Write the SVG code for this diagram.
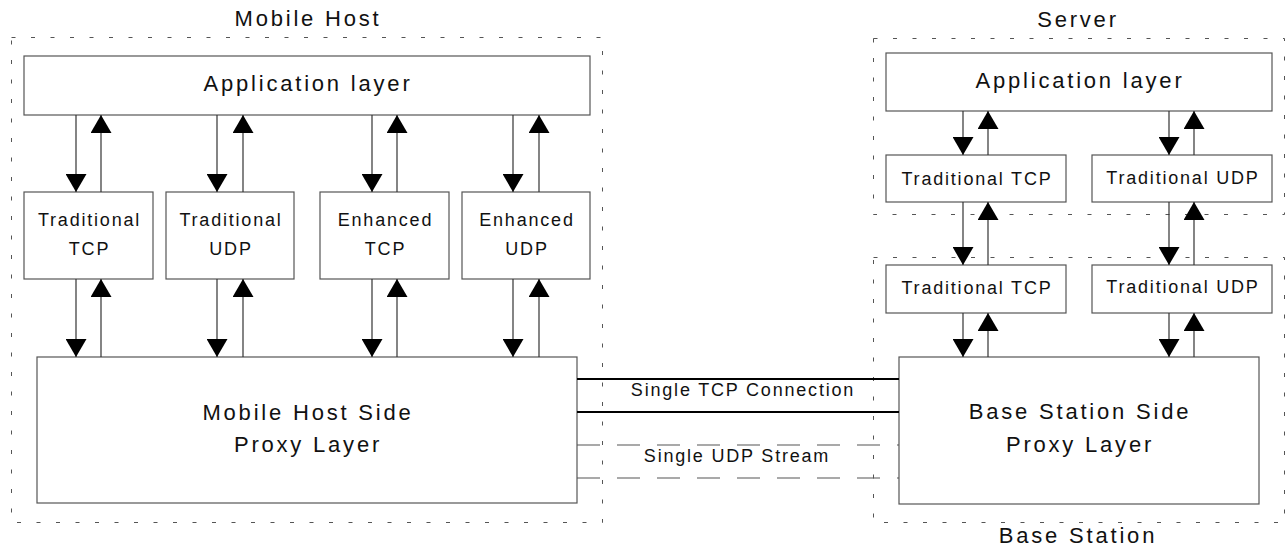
<svg xmlns="http://www.w3.org/2000/svg" width="1285" height="548" viewBox="0 0 1285 548">
  <style>
    .bg { fill: #ffffff; }
    .box { fill: #ffffff; stroke: #555555; stroke-width: 1.2; }
    .zone { fill: none; stroke: #555555; stroke-width: 1; stroke-dasharray: 4 15.5; }
    .big { font-family: "Liberation Sans", Arial, sans-serif; font-size: 22px; letter-spacing: 2.8px; fill: #111111; text-anchor: middle; }
    .small { font-family: "Liberation Sans", Arial, sans-serif; font-size: 18px; letter-spacing: 1.8px; fill: #111111; text-anchor: middle; }
    .arrow { stroke: #333333; stroke-width: 1.2; fill: none; marker-end: url(#head); }
    .thick { stroke: #000000; stroke-width: 2.2; }
    .dashed { stroke: #555555; stroke-width: 1.2; stroke-dasharray: 23 17; }
  </style>
  <defs>
    <marker id="head" viewBox="0 0 18 21" refX="18" refY="10.5" markerWidth="18" markerHeight="21" markerUnits="userSpaceOnUse" orient="auto">
      <path d="M0,0 L18,10.5 L0,21 z" fill="#000000"/>
    </marker>
  </defs>
  <rect class="bg" x="0" y="0" width="1285" height="548"/>

  <!-- Mobile host -->
  <g id="mobile-host">
    <rect class="zone" x="11.5" y="37.5" width="591" height="485"/>
    <text class="big" x="308" y="26">Mobile Host</text>
  </g>
  <g id="mh-app">
    <rect class="box" x="24" y="56" width="566" height="59"/>
    <text class="big" x="308" y="91">Application layer</text>
  </g>
  <g id="mh-trad-tcp">
    <rect class="box" x="24" y="192" width="129" height="87"/>
    <text class="small" x="89.5" y="225.5">Traditional</text>
    <text class="small" x="89.5" y="255">TCP</text>
  </g>
  <g id="mh-trad-udp">
    <rect class="box" x="166" y="192" width="128" height="87"/>
    <text class="small" x="231" y="225.5">Traditional</text>
    <text class="small" x="231" y="255">UDP</text>
  </g>
  <g id="mh-enh-tcp">
    <rect class="box" x="320" y="192" width="129" height="87"/>
    <text class="small" x="385.5" y="225.5">Enhanced</text>
    <text class="small" x="385.5" y="255">TCP</text>
  </g>
  <g id="mh-enh-udp">
    <rect class="box" x="462" y="192" width="128" height="87"/>
    <text class="small" x="527" y="225.5">Enhanced</text>
    <text class="small" x="527" y="255">UDP</text>
  </g>
  <g id="mh-proxy">
    <rect class="box" x="37" y="357" width="540" height="146"/>
    <text class="big" x="308" y="420">Mobile Host Side</text>
    <text class="big" x="308" y="452">Proxy Layer</text>
  </g>

  <!-- Server -->
  <g id="server">
    <rect class="zone" x="873.5" y="38.5" width="411" height="176"/>
    <text class="big" x="1078" y="27">Server</text>
  </g>
  <g id="srv-app">
    <rect class="box" x="886" y="53" width="386" height="58"/>
    <text class="big" x="1080" y="88">Application layer</text>
  </g>
  <g id="srv-trad-tcp">
    <rect class="box" x="886" y="155" width="180" height="47"/>
    <text class="small" x="977" y="185">Traditional TCP</text>
  </g>
  <g id="srv-trad-udp">
    <rect class="box" x="1092" y="155" width="180" height="47"/>
    <text class="small" x="1183" y="184">Traditional UDP</text>
  </g>

  <!-- Base station -->
  <g id="base-station">
    <rect class="zone" x="873.5" y="257.5" width="411" height="265"/>
    <text class="big" x="1078" y="543">Base Station</text>
  </g>
  <g id="bs-trad-tcp">
    <rect class="box" x="886" y="265" width="180" height="48"/>
    <text class="small" x="977" y="294">Traditional TCP</text>
  </g>
  <g id="bs-trad-udp">
    <rect class="box" x="1092" y="265" width="180" height="48"/>
    <text class="small" x="1183" y="293">Traditional UDP</text>
  </g>
  <g id="bs-proxy">
    <rect class="box" x="899" y="357" width="360" height="147"/>
    <text class="big" x="1080" y="419">Base Station Side</text>
    <text class="big" x="1080" y="452">Proxy Layer</text>
  </g>

  <!-- Connectors -->
  <g id="connectors">
    <!-- mobile host: application <-> transports -->
    <line class="arrow" x1="76" y1="115" x2="76" y2="192"/>
    <line class="arrow" x1="101" y1="192" x2="101" y2="115"/>
    <line class="arrow" x1="217" y1="115" x2="217" y2="192"/>
    <line class="arrow" x1="243" y1="192" x2="243" y2="115"/>
    <line class="arrow" x1="372" y1="115" x2="372" y2="192"/>
    <line class="arrow" x1="397" y1="192" x2="397" y2="115"/>
    <line class="arrow" x1="513" y1="115" x2="513" y2="192"/>
    <line class="arrow" x1="539" y1="192" x2="539" y2="115"/>
    <!-- mobile host: transports <-> proxy -->
    <line class="arrow" x1="76" y1="279" x2="76" y2="357"/>
    <line class="arrow" x1="101" y1="357" x2="101" y2="279"/>
    <line class="arrow" x1="217" y1="279" x2="217" y2="357"/>
    <line class="arrow" x1="243" y1="357" x2="243" y2="279"/>
    <line class="arrow" x1="372" y1="279" x2="372" y2="357"/>
    <line class="arrow" x1="397" y1="357" x2="397" y2="279"/>
    <line class="arrow" x1="513" y1="279" x2="513" y2="357"/>
    <line class="arrow" x1="539" y1="357" x2="539" y2="279"/>
    <!-- server: application <-> transports -->
    <line class="arrow" x1="963" y1="111" x2="963" y2="155"/>
    <line class="arrow" x1="988" y1="155" x2="988" y2="111"/>
    <line class="arrow" x1="1169" y1="111" x2="1169" y2="155"/>
    <line class="arrow" x1="1194" y1="155" x2="1194" y2="111"/>
    <!-- server transports <-> base station transports -->
    <line class="arrow" x1="963" y1="202" x2="963" y2="265"/>
    <line class="arrow" x1="988" y1="265" x2="988" y2="202"/>
    <line class="arrow" x1="1169" y1="202" x2="1169" y2="265"/>
    <line class="arrow" x1="1194" y1="265" x2="1194" y2="202"/>
    <!-- base station transports <-> proxy -->
    <line class="arrow" x1="963" y1="313" x2="963" y2="357"/>
    <line class="arrow" x1="988" y1="357" x2="988" y2="313"/>
    <line class="arrow" x1="1169" y1="313" x2="1169" y2="357"/>
    <line class="arrow" x1="1194" y1="357" x2="1194" y2="313"/>
    <!-- proxy to proxy links -->
    <line class="thick" x1="577" y1="379" x2="899" y2="379"/>
    <line class="thick" x1="577" y1="412" x2="899" y2="412"/>
    <line class="dashed" x1="577" y1="445" x2="899" y2="445"/>
    <line class="dashed" x1="577" y1="478" x2="899" y2="478"/>
    <text class="small" x="743" y="396">Single TCP Connection</text>
    <text class="small" x="737" y="462">Single UDP Stream</text>
  </g>
</svg>
